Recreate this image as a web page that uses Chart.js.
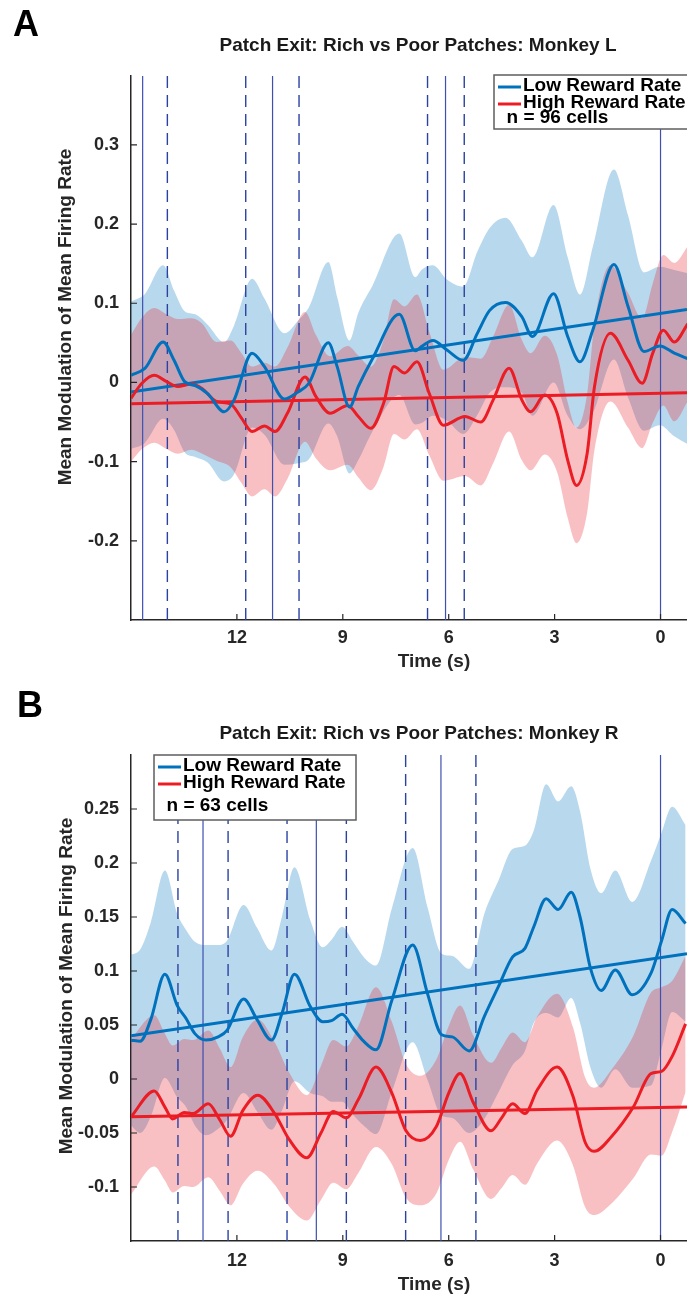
<!DOCTYPE html>
<html>
<head>
<meta charset="utf-8">
<title>Patch Exit: Rich vs Poor Patches</title>
<script src="https://cdn.jsdelivr.net/npm/chart.js@4.4.1/dist/chart.umd.min.js"></script>
<style>
  html, body { margin: 0; padding: 0; background: #fff; }
  body { width: 687px; height: 1295px; position: relative; overflow: hidden;
         font-family: "Liberation Sans", Arial, sans-serif; color: #000; }
  .panel { position: absolute; left: 0; width: 687px; }
  .panel canvas { display: block; }
  .txt { position: absolute; white-space: nowrap; font-weight: bold; line-height: 1;
         transform: translate(-50%, -50%); }
  .letter { font-size: 36px; color: #000; }
  .title { font-size: 19px; color: #1a1a1a; }
  .xtitle { font-size: 19px; color: #262626; }
  .ytitle { font-size: 19px; color: #262626; transform: translate(-50%, -50%) rotate(-90deg); }
</style>
</head>
<body>

<div class="panel" style="top:0; height:680px;">
  <canvas id="chartA" width="687" height="680"></canvas>
</div>
<div class="panel" style="top:680px; height:615px;">
  <canvas id="chartB" width="687" height="615"></canvas>
</div>

<div class="txt letter" style="left:26px; top:24px;">A</div>
<div class="txt title" style="left:418px; top:44px;">Patch Exit: Rich vs Poor Patches: Monkey L</div>
<div class="txt ytitle" style="left:64px; top:317px;">Mean Modulation of Mean Firing Rate</div>
<div class="txt xtitle" style="left:434px; top:660px;">Time (s)</div>

<div class="txt letter" style="left:30px; top:705px;">B</div>
<div class="txt title" style="left:419px; top:732px;">Patch Exit: Rich vs Poor Patches: Monkey R</div>
<div class="txt ytitle" style="left:65px; top:986px;">Mean Modulation of Mean Firing Rate</div>
<div class="txt xtitle" style="left:434px; top:1283px;">Time (s)</div>

<script>
// ---------- shared ----------
const legendLabels = ['Low Reward Rate', 'High Reward Rate'];
const xTickValues = [12, 9, 6, 3, 0];
const xRange = [-0.75, 15];
const fitTimes = [15, -0.75];

// ---------- panel A : Monkey L ----------
const timeA_low = [15.0, 14.6, 14.09, 13.78, 13.48, 13.18, 12.83, 12.36, 12.08, 11.57, 11.22, 10.65, 10.27, 9.96, 9.41, 9.16, 8.81, 8.56, 8.16, 7.40, 6.95, 6.75, 6.45, 6.05, 5.59, 5.19, 4.84, 4.39, 3.93, 3.63, 3.03, 2.63, 2.28, 1.92, 1.32, 0.92, 0.47, 0.02, -0.39, -0.77];
const meanA_low = [0.009, 0.018, 0.051, 0.028, 0.001, -0.004, -0.014, -0.037, -0.022, 0.037, 0.020, -0.021, -0.012, -0.001, 0.050, 0.020, -0.031, -0.005, 0.030, 0.086, 0.040, 0.046, 0.053, 0.041, 0.028, 0.062, 0.091, 0.101, 0.083, 0.058, 0.112, 0.058, 0.026, 0.066, 0.149, 0.096, 0.039, 0.046, 0.037, 0.030];
const semA_low = [0.093, 0.094, 0.097, 0.088, 0.089, 0.090, 0.087, 0.088, 0.094, 0.094, 0.086, 0.083, 0.090, 0.096, 0.102, 0.088, 0.084, 0.093, 0.092, 0.102, 0.093, 0.097, 0.095, 0.089, 0.093, 0.103, 0.104, 0.107, 0.096, 0.100, 0.112, 0.100, 0.085, 0.105, 0.120, 0.115, 0.100, 0.100, 0.105, 0.108];

const timeA_high = [15.0, 14.69, 14.34, 13.99, 13.68, 13.28, 12.98, 12.58, 12.18, 11.87, 11.57, 11.22, 10.92, 10.57, 10.07, 9.76, 9.36, 8.86, 8.56, 8.21, 7.85, 7.55, 7.25, 6.90, 6.55, 6.15, 5.54, 5.09, 4.74, 4.29, 3.93, 3.68, 3.28, 2.93, 2.63, 2.38, 2.08, 1.87, 1.42, 0.92, 0.52, 0.22, -0.08, -0.39, -0.77];
const meanA_high = [-0.020, -0.001, 0.009, 0.001, -0.005, -0.002, -0.008, -0.024, -0.027, -0.045, -0.062, -0.055, -0.062, -0.039, 0.007, -0.018, -0.039, -0.029, -0.043, -0.058, -0.027, 0.020, 0.012, 0.026, -0.014, -0.054, -0.043, -0.050, -0.022, 0.018, -0.022, -0.037, -0.016, -0.039, -0.098, -0.130, -0.090, -0.005, 0.062, 0.028, -0.001, 0.037, 0.066, 0.051, 0.074];
const semA_high = [0.080, 0.083, 0.085, 0.085, 0.085, 0.083, 0.082, 0.075, 0.080, 0.082, 0.082, 0.080, 0.082, 0.083, 0.082, 0.078, 0.072, 0.075, 0.077, 0.078, 0.080, 0.085, 0.084, 0.085, 0.078, 0.070, 0.075, 0.080, 0.080, 0.080, 0.076, 0.074, 0.075, 0.074, 0.073, 0.073, 0.075, 0.080, 0.086, 0.085, 0.082, 0.088, 0.095, 0.100, 0.098];

const fitA_low = [-0.012, 0.092];
const fitA_high = [-0.027, -0.013];
const eventsA_solid = [14.67, 10.99, 6.09, 0];
const eventsA_dashed = [13.97, 11.75, 10.24, 6.60, 5.56];
const yTicksA = [-0.2, -0.1, 0, 0.1, 0.2, 0.3];
const yRangeA = [-0.3, 0.387];

// ---------- panel B : Monkey R ----------
const timeB_low = [15.0, 14.74, 14.44, 14.04, 13.69, 13.44, 13.19, 12.88, 12.53, 12.28, 11.81, 11.43, 11.02, 10.72, 10.37, 9.92, 9.57, 9.32, 9.02, 8.71, 8.41, 8.06, 7.61, 7.02, 6.60, 6.20, 5.90, 5.42, 4.99, 4.60, 4.19, 3.84, 3.59, 3.24, 2.90, 2.53, 2.28, 1.98, 1.68, 1.28, 0.80, 0.27, -0.03, -0.33, -0.71];
const meanB_low = [0.036, 0.035, 0.055, 0.097, 0.068, 0.056, 0.042, 0.036, 0.039, 0.045, 0.074, 0.055, 0.036, 0.061, 0.097, 0.067, 0.053, 0.054, 0.060, 0.047, 0.035, 0.027, 0.073, 0.124, 0.079, 0.041, 0.039, 0.026, 0.058, 0.085, 0.113, 0.121, 0.141, 0.167, 0.157, 0.173, 0.150, 0.102, 0.082, 0.101, 0.078, 0.098, 0.128, 0.157, 0.144];
const semB_low = [0.079, 0.085, 0.090, 0.096, 0.085, 0.082, 0.085, 0.088, 0.085, 0.083, 0.087, 0.085, 0.083, 0.090, 0.099, 0.080, 0.069, 0.075, 0.081, 0.080, 0.078, 0.078, 0.085, 0.090, 0.080, 0.075, 0.075, 0.076, 0.095, 0.098, 0.100, 0.095, 0.089, 0.106, 0.100, 0.098, 0.098, 0.092, 0.090, 0.092, 0.086, 0.104, 0.100, 0.095, 0.091];

const timeB_high = [15.0, 14.34, 14.04, 13.82, 13.49, 13.24, 12.81, 12.48, 12.18, 11.83, 11.41, 10.93, 10.52, 10.02, 9.62, 9.27, 8.90, 8.56, 8.06, 7.61, 7.21, 6.80, 6.35, 6.00, 5.68, 5.30, 4.80, 4.50, 4.19, 3.84, 3.49, 2.93, 2.48, 2.13, 1.88, 1.38, 0.77, 0.27, -0.03, -0.33, -0.71];
const meanB_high = [-0.035, -0.011, -0.026, -0.037, -0.031, -0.032, -0.023, -0.038, -0.053, -0.029, -0.015, -0.032, -0.056, -0.073, -0.050, -0.030, -0.036, -0.019, 0.011, -0.013, -0.048, -0.057, -0.044, -0.013, 0.005, -0.022, -0.048, -0.036, -0.023, -0.032, -0.010, 0.011, -0.016, -0.059, -0.067, -0.053, -0.026, 0.005, 0.007, 0.021, 0.051];
const semB_high = [0.072, 0.070, 0.068, 0.068, 0.068, 0.068, 0.068, 0.066, 0.064, 0.068, 0.070, 0.066, 0.062, 0.058, 0.062, 0.066, 0.066, 0.068, 0.074, 0.066, 0.062, 0.060, 0.062, 0.062, 0.063, 0.062, 0.063, 0.065, 0.066, 0.066, 0.068, 0.068, 0.064, 0.060, 0.059, 0.062, 0.066, 0.075, 0.078, 0.070, 0.063];

const fitB_low = [0.040, 0.116];
const fitB_high = [-0.035, -0.026];
const eventsB_solid = [12.96, 9.75, 6.22, 0];
const eventsB_dashed = [13.67, 12.25, 10.58, 8.90, 7.22, 5.23];
const yTicksB = [-0.1, -0.05, 0, 0.05, 0.1, 0.15, 0.2, 0.25];
const yRangeB = [-0.15, 0.3];

// ---------- styling ----------
const fontFamily = '"Liberation Sans", Arial, sans-serif';
const axisColor = '#262626';
const blue = '#0072bd';
const red = '#ec1c24';
const blueBand = 'rgba(0, 114, 189, 0.28)';
const redBand = 'rgba(235, 30, 40, 0.28)';
const eventSolid = '#3f51b0';
const eventDashed = '#2a42a2';
const clear = 'rgba(0,0,0,0)';

Chart.defaults.font.family = fontFamily;

function pts(times, vals) {
    return times.map((t, i) => ({ x: t, y: vals[i] }));
}
function bandPts(times, mean, sem, sign) {
    return times.map((t, i) => ({ x: t, y: mean[i] + sign * sem[i] }));
}

// inward tick marks like the original figure
const inwardTicks = {
    id: 'inwardTicks',
    afterDatasetsDraw(chart) {
        const { ctx, chartArea, scales } = chart;
        ctx.save();
        ctx.strokeStyle = axisColor;
        ctx.lineWidth = 1.2;
        ctx.beginPath();
        scales.x.ticks.forEach(t => {
            const px = scales.x.getPixelForValue(t.value);
            ctx.moveTo(px, chartArea.bottom);
            ctx.lineTo(px, chartArea.bottom - 6);
        });
        scales.y.ticks.forEach(t => {
            const py = scales.y.getPixelForValue(t.value);
            ctx.moveTo(chartArea.left, py);
            ctx.lineTo(chartArea.left + 6, py);
        });
        ctx.stroke();
        ctx.restore();
    }
};

// boxed legend drawn inside the plot
const boxLegend = {
    id: 'boxLegend',
    afterDraw(chart, args, opts) {
        const ctx = chart.ctx;
        const b = opts.box;
        ctx.save();
        ctx.fillStyle = '#fff';
        ctx.fillRect(b.x, b.y, b.w, b.h);
        ctx.strokeStyle = '#5e5e5e';
        ctx.lineWidth = 1.5;
        ctx.strokeRect(b.x, b.y, b.w, b.h);
        ctx.font = 'bold 19px ' + fontFamily;
        ctx.textBaseline = 'middle';
        ctx.textAlign = 'left';
        [blue, red].forEach((c, i) => {
            const yy = b.y + opts.rows[i];
            ctx.strokeStyle = c;
            ctx.lineWidth = 3;
            ctx.beginPath();
            ctx.moveTo(b.x + 4, yy + 1);
            ctx.lineTo(b.x + 27, yy + 1);
            ctx.stroke();
            ctx.fillStyle = '#000';
            ctx.fillText(legendLabels[i], b.x + 29, yy);
        });
        ctx.fillStyle = '#000';
        ctx.fillText(opts.nLabel, b.x + 12.5, b.y + opts.rows[2]);
        ctx.restore();
    }
};

function buildChart(id, p) {
    const ds = [];
    ds.push({ data: pts(p.tLow, p.mLow), borderColor: blue, borderWidth: 3, order: 0 });
    ds.push({ data: pts(p.tHigh, p.mHigh), borderColor: red, borderWidth: 3, order: 0 });
    ds.push({ data: pts(fitTimes, p.fitLow), borderColor: blue, borderWidth: 3, order: 1,
              cubicInterpolationMode: 'default', tension: 0 });
    ds.push({ data: pts(fitTimes, p.fitHigh), borderColor: red, borderWidth: 3, order: 1,
              cubicInterpolationMode: 'default', tension: 0 });
    p.solid.forEach(t => ds.push({
        data: [{ x: t, y: p.yRange[1] }, { x: t, y: p.yRange[0] }],
        borderColor: eventSolid, borderWidth: 1.2, order: 2,
        cubicInterpolationMode: 'default', tension: 0
    }));
    p.dashed.forEach(t => ds.push({
        data: [{ x: t, y: p.yRange[1] }, { x: t, y: p.yRange[0] }],
        borderColor: eventDashed, borderWidth: 1.4, borderDash: [12, 7], order: 2,
        cubicInterpolationMode: 'default', tension: 0
    }));
    // shaded error bands: upper edge fills down to the lower edge right after it
    let n = ds.length;
    ds.push({ data: bandPts(p.tLow, p.mLow, p.sLow, 1), borderColor: clear, borderWidth: 0,
              backgroundColor: blueBand, fill: n + 1, order: 4 });
    ds.push({ data: bandPts(p.tLow, p.mLow, p.sLow, -1), borderColor: clear, borderWidth: 0,
              fill: false, order: 4 });
    n = ds.length;
    ds.push({ data: bandPts(p.tHigh, p.mHigh, p.sHigh, 1), borderColor: clear, borderWidth: 0,
              backgroundColor: redBand, fill: n + 1, order: 3 });
    ds.push({ data: bandPts(p.tHigh, p.mHigh, p.sHigh, -1), borderColor: clear, borderWidth: 0,
              fill: false, order: 3 });

    const tickFont = { size: 18, weight: 'bold', family: fontFamily };

    return new Chart(document.getElementById(id), {
        type: 'line',
        data: { datasets: ds },
        options: {
            responsive: false,
            animation: false,
            events: [],
            layout: { padding: { top: p.padTop, left: 0, right: 0, bottom: 0 } },
            elements: {
                point: { radius: 0 },
                line: { cubicInterpolationMode: 'monotone', borderCapStyle: 'butt', fill: false }
            },
            plugins: {
                legend: { display: false },
                tooltip: { enabled: false },
                title: { display: false },
                boxLegend: p.legend
            },
            scales: {
                x: {
                    type: 'linear',
                    reverse: true,
                    min: xRange[0],
                    max: xRange[1],
                    grid: { display: false, drawTicks: false },
                    border: { display: true, color: axisColor, width: 1.5 },
                    ticks: { font: tickFont, color: axisColor, padding: p.xPad, autoSkip: false, maxRotation: 0,
                             callback: v => String(v) },
                    afterBuildTicks: s => { s.ticks = xTickValues.map(v => ({ value: v })); },
                    afterFit: s => { s.height = p.xAxisH; }
                },
                y: {
                    type: 'linear',
                    min: p.yRange[0],
                    max: p.yRange[1],
                    grid: { display: false, drawTicks: false },
                    border: { display: true, color: axisColor, width: 1.5 },
                    ticks: { font: tickFont, color: axisColor, padding: 12, autoSkip: false,
                             callback: v => String(v) },
                    afterBuildTicks: s => { s.ticks = p.yTicks.map(v => ({ value: v })); },
                    afterFit: s => { s.width = 131; }
                }
            }
        },
        plugins: [inwardTicks, boxLegend]
    });
}

buildChart('chartA', {
    tLow: timeA_low, mLow: meanA_low, sLow: semA_low,
    tHigh: timeA_high, mHigh: meanA_high, sHigh: semA_high,
    fitLow: fitA_low, fitHigh: fitA_high,
    solid: eventsA_solid, dashed: eventsA_dashed,
    yTicks: yTicksA, yRange: yRangeA,
    padTop: 76, xAxisH: 60, xPad: 7,
    legend: { box: { x: 494, y: 75, w: 220, h: 54 }, rows: [11, 28, 43], nLabel: 'n = 96 cells' }
});

buildChart('chartB', {
    tLow: timeB_low, mLow: meanB_low, sLow: semB_low,
    tHigh: timeB_high, mHigh: meanB_high, sHigh: semB_high,
    fitLow: fitB_low, fitHigh: fitB_high,
    solid: eventsB_solid, dashed: eventsB_dashed,
    yTicks: yTicksB, yRange: yRangeB,
    padTop: 75, xAxisH: 54, xPad: 9,
    legend: { box: { x: 154, y: 75, w: 202, h: 65 }, rows: [11, 28, 51], nLabel: 'n = 63 cells' }
});
</script>
</body>
</html>
